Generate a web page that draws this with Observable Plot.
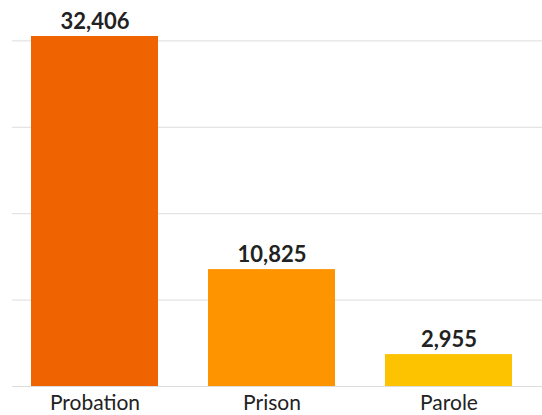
<!DOCTYPE html>
<html>
<head>
<meta charset="utf-8">
<script src="https://cdn.jsdelivr.net/npm/d3@7"></script>
<script src="https://cdn.jsdelivr.net/npm/@observablehq/plot@0.6"></script>
<style>
  html, body { margin: 0; padding: 0; background: #fff; }
  #chart svg { display: block; }
</style>
</head>
<body>
<div id="chart"></div>
<script>
const categories = ["Probation", "Prison", "Parole"];
const values = [32406, 10825, 2955];
const colors = ["#ef6400", "#fd9400", "#fdc200"];
const gridTicks = [0, 8000, 16000, 24000, 32000];

const data = categories.map((c, i) => ({category: c, value: values[i]}));

const chart = Plot.plot({
  width: 542,
  height: 415,
  marginTop: 36,
  marginBottom: 29,
  marginLeft: 12,
  marginRight: 0,
  style: {fontFamily: "Lato, sans-serif", background: "#fff"},
  x: {domain: categories, range: [6, 537], paddingInner: 0.285, paddingOuter: 0.1425, label: null},
  y: {domain: [0, d3.max(values)], axis: null},
  color: {domain: categories, range: colors},
  marks: [
    Plot.ruleY(gridTicks, {stroke: "#dddddd", strokeWidth: 1}),
    Plot.barY(data, {x: "category", y: "value", fill: "category"}),
    Plot.text(data, {x: "category", y: "value", text: d => d3.format(",")(d.value), lineAnchor: "bottom", dy: -8, fontSize: 22, fontWeight: "bold", fill: "#222", style: "letter-spacing:0.5px"}),
    Plot.axisX({tickSize: 0, tickPadding: 9, fontSize: 21, color: "#222", label: null})
  ]
});
document.getElementById("chart").appendChild(chart);
</script>
</body>
</html>
